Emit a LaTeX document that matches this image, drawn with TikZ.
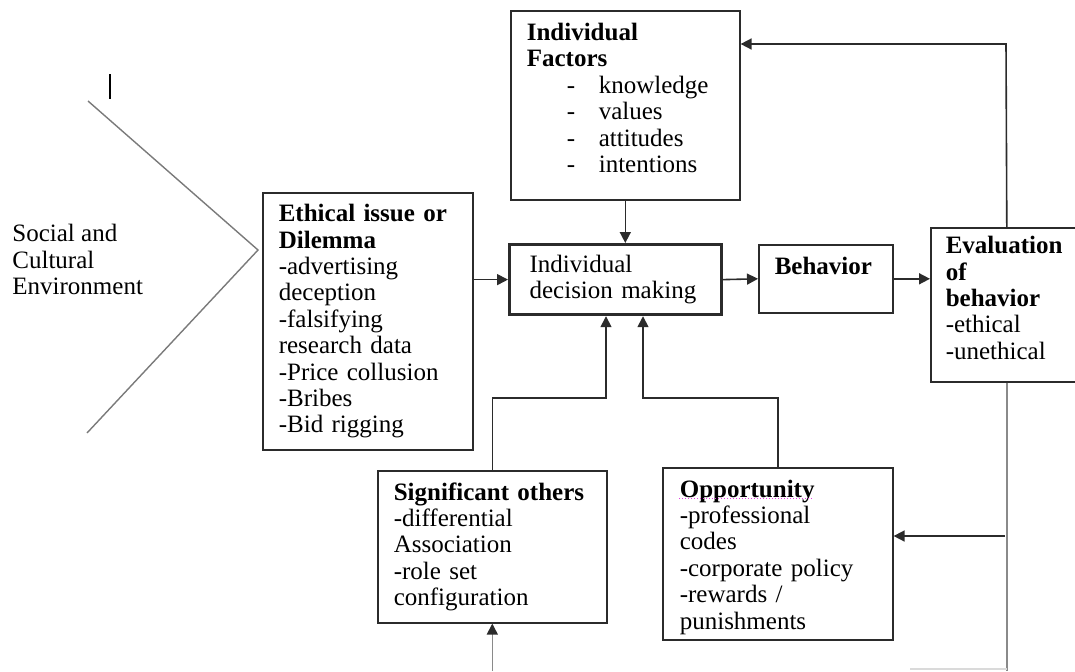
\documentclass[tikz,border=0pt]{standalone}
\usepackage{fontspec}
\setmainfont{Liberation Serif}
\usetikzlibrary{arrows.meta}
\definecolor{boxline}{HTML}{2B2B2B}
\definecolor{chevgray}{HTML}{7A7A7A}
\definecolor{fbgray}{HTML}{8A8A8A}
\definecolor{faintgray}{HTML}{DADADA}
\definecolor{spellpink}{HTML}{E040E0}

\begin{document}
\begin{tikzpicture}[x=0.5pt, y=-0.5pt, font=\fontsize{12.5pt}{13.2pt}\selectfont,
    box/.style={draw=boxline, line width=0.8pt, inner sep=0pt, align=left, anchor=north west},
    arr/.style={draw=boxline, line width=0.8pt, -{Triangle[length=5.5pt, width=5.5pt, color=boxline]}}]
  \clip (0,0) rectangle (1075,671);

  % environment wedge
  \node[align=left, anchor=west, inner sep=0pt] (soc) at (12,259.5)
        {Social and\\Cultural\\Environment};
  \coordinate (wtop) at (88,101);
  \coordinate (wtip) at (258,250);
  \coordinate (wbot) at (87,433);
  \draw[chevgray, line width=0.7pt] (wtop) -- (wtip) -- (wbot);
  \draw[line width=1.4pt] (110,74) -- (110,99);

  % boxes
  \node[box, minimum width=114.5pt, minimum height=94.5pt, text width=98.5pt] (fac) at (510,10)
        {\textbf{Individual}\\ \textbf{Factors}\\
         \hspace*{20pt}\makebox[16pt][l]{-}knowledge\\
         \hspace*{20pt}\makebox[16pt][l]{-}values\\
         \hspace*{20pt}\makebox[16pt][l]{-}attitudes\\
         \hspace*{20pt}\makebox[16pt][l]{-}intentions\rule[-7.5pt]{0pt}{1pt}};
  \node[box, minimum width=105pt, minimum height=128.5pt, text width=89pt] (eth) at (262,192)
        {\textbf{Ethical issue or}\\ \textbf{Dilemma}\\ -advertising\\ deception\\ -falsifying\\
         research data\\ -Price collusion\\ -Bribes\\ -Bid rigging};
  \node[box, line width=1.6pt, minimum width=106pt, minimum height=35pt, text width=86pt] (dec) at (508,243)
        {Individual\\ decision making};
  \node[box, minimum width=67pt, minimum height=34pt, text width=51pt] (beh) at (758,244)
        {\textbf{Behavior}\rule[-12.5pt]{0pt}{1pt}};
  \node[box, minimum width=76pt, minimum height=77pt, text width=61pt] (eva) at (930,227)
        {\textbf{Evaluation}\\ \textbf{of}\\ \textbf{behavior}\\ -ethical\\ -unethical\rule[-7pt]{0pt}{1pt}};
  \node[box, minimum width=114.5pt, minimum height=76pt, text width=98.5pt] (sig) at (377,470)
        {\textbf{Significant others}\\ -differential\\ Association\\ -role set\\ configuration};
  \node[box, minimum width=115pt, minimum height=86pt, text width=98pt] (opp) at (662,467)
        {\rule{0pt}{12pt}\textbf{Opportunity}\\ -professional\\ codes\\ -corporate policy\\ -rewards /\\ punishments};
  \draw[spellpink, densely dotted, line width=0.5pt] ([shift={(17,31)}]opp.north west) -- ++(134,0);

  % connectors
  \draw[arr] (fac.south) -- (fac.south |- dec.north);
  \draw[arr] (eth.east |- dec.west) -- (dec.west);
  \draw[arr] (dec.east) -- (beh.west);
  \draw[arr] (beh.east) -- (beh.east -| eva.west);
  \coordinate (fbtop) at (1006,44);
  \draw[arr] (eva.north) -- (fbtop) -- (fbtop -| fac.east);
  \coordinate (sigbend) at (606,398);
  \draw[arr] (sig.north) |- (sigbend) -- (sigbend |- dec.south);
  \coordinate (oppbend) at (643,398);
  \draw[arr] (opp.north) |- (oppbend) -- (oppbend |- dec.south);

  % feedback from evaluation
  \coordinate (fbbot) at (1005,671);
  \draw[fbgray, line width=1pt] (eva.south) -- (eva.south |- fbbot);
  \coordinate (fbopp) at (1005,536);
  \draw[arr] (fbopp) -- (fbopp -| opp.east);
  \draw[faintgray, line width=1pt] (910,669) -- (eva.south |- 0,669);
  \draw[arr, draw=fbgray] (sig.south |- fbbot) -- (sig.south);
\end{tikzpicture}
\end{document}
